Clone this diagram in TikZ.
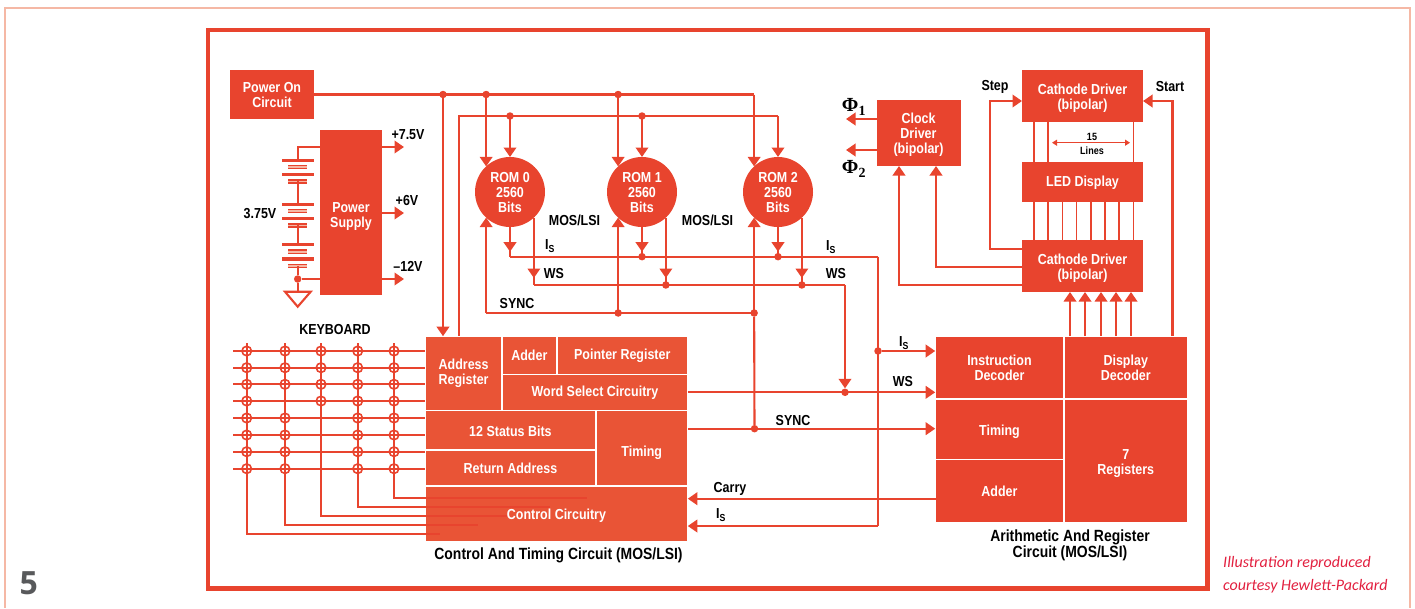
\documentclass[tikz,border=0pt]{standalone}
\usepackage{fontspec}
\setmainfont{Liberation Sans}[FakeStretch=0.86]
\newfontfamily\notefont{Carlito}
\newfontfamily\numfont{Open Sans}
\newfontfamily\phifont{Liberation Serif}
\usetikzlibrary{arrows.meta}
\definecolor{hpred}{HTML}{E8442E}
\definecolor{hplight}{HTML}{E95436}
\definecolor{hppale}{HTML}{F5B8A5}
\definecolor{hpink}{HTML}{E2203F}
\definecolor{hpgray}{HTML}{58595B}
\newcommand{\dn}[2]{\raisebox{-#1pt}[\height][\depth]{#2}}
\begin{document}
\begin{tikzpicture}[
        x=1pt, y=-1pt,
        block/.style={
            fill=hpred,
            text=white,
            font=\fontsize{14.5}{15}\selectfont\bfseries,
            align=center,
            inner sep=0pt,
            outer sep=0pt
        },
        cell/.style={
            block,
            draw=white,
            line width=1.6pt
        },
        rom/.style={
            block,
            circle,
            minimum size=70pt
        },
        wire/.style={
            draw=hpred,
            line width=2.1pt
        },
        fine/.style={
            draw=hpred,
            line width=1.7pt
        },
        sig/.style={
            wire,
            -{Triangle[length=9.5pt,width=12.5pt]}
        },
        dot/.style={
            circle,
            fill=hpred,
            minimum size=7.5pt,
            inner sep=0pt
        },
        keyhit/.style={
            circle,
            draw=hpred,
            line width=1.6pt,
            minimum size=9.5pt,
            inner sep=0pt
        },
        lbl/.style={
            font=\fontsize{14.5}{16}\selectfont\bfseries,
            align=center,
            inner sep=0pt,
            yshift=-1pt
        },
        caption/.style={
            lbl,
            font=\fontsize{16.2}{16}\selectfont\bfseries
        },
        philbl/.style={
            lbl,
            font=\fontsize{20}{20}\selectfont\phifont\bfseries
        },
        tinylbl/.style={
            lbl,
            font=\fontsize{10.5}{11}\selectfont\bfseries
        }
    ]

    \useasboundingbox (0,0) rectangle (1415,608);

    % ---------------------------------------------------------
    % One cell of a circuit block
    % Arguments:
    % #1 = node name
    % #2, #3 = left, top
    % #4, #5 = right, bottom
    % #6 = colour
    % #7 = text
    % ---------------------------------------------------------
    \newcommand{\drawCell}[7]{
        \node[cell, fill=#6, minimum width={(#4-#2)*1pt}, minimum height={(#5-#3)*1pt}]
            (#1) at ({(#2+#4)/2}, {(#3+#5)/2}) {#7};
    }

    % Frames
    \draw[hppale, line width=1.5pt] (5,608) -- (5,8) -- (1410,8) -- (1410,608);
    \draw[hpred, line width=4.4pt] (208,30) rectangle (1207.5,588.5);

    % ---------------------------------------------------------
    % Control and timing circuit
    % ---------------------------------------------------------
    \drawCell{addr}{425.2}{336.2}{502}{410.5}{hplight}{Address\\Register}
    \drawCell{cadd}{502}{336.2}{556.7}{374.5}{hplight}{Adder}
    \drawCell{ptr}{556.7}{336.2}{687.8}{374.5}{hplight}{Pointer Register}
    \drawCell{wsel}{502}{374.5}{687.8}{410.5}{hplight}{Word Select Circuitry}
    \drawCell{stat}{425.2}{410.5}{595.7}{450}{hplight}{\dn{1}{12 Status Bits}}
    \drawCell{ret}{425.2}{450}{595.7}{485.7}{hplight}{Return Address}
    \drawCell{ctim}{595.7}{410.5}{687.8}{485.7}{hplight}{\dn{5}{Timing}}
    \drawCell{ctl}{425.2}{485.7}{687.8}{541.3}{hplight}{\dn{2}{Control Circuitry}}
    \node[caption] (ctlcap) at (558.5,554) {Control And Timing Circuit (MOS/LSI)};

    % ---------------------------------------------------------
    % Arithmetic and register circuit
    % ---------------------------------------------------------
    \drawCell{inst}{935.2}{336.2}{1063.7}{399}{hpred}{Instruction\\Decoder}
    \drawCell{disp}{1063.7}{336.2}{1187.8}{399}{hpred}{Display\\Decoder}
    \drawCell{atim}{935.2}{399}{1063.7}{459.3}{hpred}{\dn{3}{Timing}}
    \drawCell{aadd}{935.2}{459.3}{1063.7}{522.8}{hpred}{Adder}
    \drawCell{regs}{1063.7}{399}{1187.8}{522.8}{hpred}{\dn{3}{7}\\\dn{3}{Registers}}
    \node[caption] (arcap) at (1070,544) {Arithmetic And Register\\Circuit (MOS/LSI)};

    % ---------------------------------------------------------
    % Power on, power supply and battery
    % ---------------------------------------------------------
    \node[block, minimum width=84pt, minimum height=49pt] (pwr) at (272,94.5) {\dn{1}{Power On}\\\dn{1}{Circuit}};
    \node[block, minimum width=62pt, minimum height=165pt] (psu) at (351,212.5) {\dn{4}{Power}\\\dn{4}{Supply}};

    \foreach \n/\y in {a/147,b/213,c/279} {
        \coordinate (out\n) at (404,\y);
        \draw[sig] (out\n -| psu.east) -- (out\n);
    }
    \node[lbl] (va) at (408,134) {+7.5V};
    \node[lbl] (vb) at (407,200) {+6V};
    \node[lbl] (vc) at (408,265) {--12V};
    \node[lbl] (vbat) at (260,213) {3.75V};

    \foreach \y in {160.3,174.7,204.3,218.7,244.7,259} {
        \draw[hpred, line width=3.2pt] (282,\y) -- (313.7,\y);
    }
    \foreach \y in {167,181.3,211,225.3,251.7,266} {
        \draw[hpred, line width=1.5pt, double=hppale, double distance=1.6pt] (288,\y) -- (307,\y);
    }
    \coordinate (psuin) at (320,147);
    \coordinate (battop) at (297.7,160.3);
    \node[dot] (batgnd) at (297.7,279) {};
    \coordinate (gnd) at (297.7,291.7);
    \draw[wire] (psuin) -| (battop);
    \draw[wire] (297.7,181.3) -- (297.7,204.3);
    \draw[wire] (297.7,225.3) -- (297.7,244.7);
    \draw[wire] (297.7,266) -- (batgnd) -- (gnd);
    \draw[wire] (batgnd) -- (batgnd -| psu.west);
    \draw[wire, line join=miter] (285,291.7) -- (310.7,291.7) -- (297.7,306.7) -- cycle;

    % ---------------------------------------------------------
    % ROMs with their buses
    % ---------------------------------------------------------
    \foreach \n/\x in {0/510,1/642,2/778} {
        \node[rom] (rom\n) at (\x,192) {\dn{1}{ROM \n}\\\dn{1}{2560}\\\dn{1}{Bits}};
        % points on the four rails
        \coordinate (pw\n) at (rom\n.133 |- pwr.east);
        \coordinate (rl\n) at (\x,116);
        \coordinate (is\n) at (\x,256.7);
        \coordinate (ws\n) at (rom\n.-47 |- 0,285);
        \coordinate (sy\n) at (rom\n.-133 |- 0,313);
    }
    \node[dot] (addrdot) at (443,94.5) {};
    \coordinate (rltop) at (459,116);
    \coordinate (isend) at (878,256.7);
    \coordinate (wsend) at (845,285);

    % rails
    \draw[wire] (pwr.east) -- (pw2);
    \draw[sig] (addrdot) -- (addrdot |- addr.north);
    \draw[wire] (addr.north -| rltop) -- (rltop) -- (rl2);
    \draw[wire] (is0) -- (isend);
    \draw[wire] (ws0) -- (wsend);
    \draw[wire] (sy0) -- (sy2);

    % ROM inputs and outputs
    \foreach \n in {0,1,2} {
        \draw[sig] (pw\n) -- (rom\n.133);
        \draw[sig] (rl\n) -- (rom\n.north);
        \draw[sig] (sy\n) -- (rom\n.-133);
        \draw[wire] (rom\n.south) -- (is\n);
        \draw[wire] (rom\n.-47) -- (ws\n);
        \draw[sig, shorten >=5pt] (rom\n.south) -- (is\n);
        \draw[sig, shorten >=7pt] (rom\n.-47) -- (ws\n);
    }
    \foreach \n in {0,1} {
        \node[dot] (pwd\n) at (pw\n) {};
        \node[dot] (rld\n) at (rl\n) {};
    }
    \foreach \n in {1,2} {
        \node[dot] (isd\n) at (is\n) {};
        \node[dot] (wsd\n) at (ws\n) {};
        \node[dot] (syd\n) at (sy\n) {};
    }

    \node[lbl] (mos0) at (574.5,219) {MOS/LSI};
    \node[lbl] (mos1) at (707.5,219) {MOS/LSI};
    \node[lbl] (isa) at (550,245) {I\textsubscript{S}};
    \node[lbl] (isb) at (831,246) {I\textsubscript{S}};
    \node[lbl] (wsa) at (554,273) {WS};
    \node[lbl] (wsb) at (836,273) {WS};
    \node[lbl] (syncr) at (517,303) {SYNC};

    % ---------------------------------------------------------
    % Signals between the two circuits
    % ---------------------------------------------------------
    \node[dot] (isdot) at (878,351) {};
    \coordinate (isleft) at (878,526);
    \node[dot] (wsdot) at (845,392.3) {};
    \node[dot] (sydot) at (754.5,428.7) {};

    \draw[wire] (isend) -- (isleft);
    \draw[sig] (isleft) -- (isleft -| ctl.east);
    \draw[sig] (isdot) -- (isdot -| inst.west);
    \draw[sig] (wsend) -- (wsdot);
    \draw[sig] (wsdot -| wsel.east) -- (wsdot -| inst.west);
    \draw[sig] (sydot -| ctim.east) -- (sydot -| atim.west);
    \draw[wire] (sydot) -- (syd2);
    \coordinate (carry) at (936,498.7);
    \draw[sig] (carry) -- (carry -| ctl.east);

    \node[lbl] (isc) at (904,342) {I\textsubscript{S}};
    \node[lbl] (wsc) at (903,381) {WS};
    \node[lbl] (syncb) at (793,420) {SYNC};
    \node[lbl] (carrylbl) at (730,488) {Carry};
    \node[lbl] (isd) at (721,514) {I\textsubscript{S}};

    % ---------------------------------------------------------
    % Clock driver and display
    % ---------------------------------------------------------
    \node[block, minimum width=84pt, minimum height=66pt] (clk) at (918.5,133) {\dn{2}{Clock}\\\dn{2}{Driver}\\\dn{2}{(bipolar)}};
    \node[block, minimum width=121pt, minimum height=52pt] (ucath) at (1082.5,96) {\dn{2}{Cathode Driver}\\\dn{2}{(bipolar)}};
    \node[block, minimum width=121pt, minimum height=40pt] (led) at (1082.5,182) {\dn{1}{LED Display}};
    \node[block, minimum width=121pt, minimum height=52pt] (lcath) at (1082.5,266) {\dn{2}{Cathode Driver}\\\dn{2}{(bipolar)}};

    \coordinate (ph1) at (846,119);
    \coordinate (ph2) at (846,150);
    \draw[sig] (ph1 -| clk.west) -- (ph1);
    \draw[sig] (ph2 -| clk.west) -- (ph2);
    \node[philbl] (ph1lbl) at (854,106) {Φ\textsubscript{1}};
    \node[philbl] (ph2lbl) at (854,168) {Φ\textsubscript{2}};

    \coordinate (clkb) at (936,267);
    \coordinate (clka) at (899,285);
    \draw[sig] (clkb -| lcath.west) -- (clkb) -- (clkb |- clk.south);
    \draw[sig] (clka -| lcath.west) -- (clka) -- (clka |- clk.south);

    \coordinate (stepl) at (990,249);
    \coordinate (stepu) at (990,101);
    \draw[sig] (stepl -| lcath.west) -- (stepl) -- (stepu) -- (stepu -| ucath.west);
    \coordinate (startu) at (1172.5,101);
    \draw[sig] (startu |- disp.north) -- (startu) -- (startu -| ucath.east);
    \node[lbl] (steplbl) at (995,86) {Step};
    \node[lbl] (startlbl) at (1170,86) {Start};

    \foreach \x in {1034,1048,1133.5} {
        \draw[fine] (\x,0 |- ucath.south) -- (\x,0 |- led.north);
    }
    \foreach \x in {1034,1048,1062.5,1076.5,1091,1105,1119,1133.5} {
        \draw[fine] (\x,0 |- led.south) -- (\x,0 |- lcath.north);
    }
    \foreach \x in {1070,1085,1101,1116,1131} {
        \draw[sig, line width=1.9pt] (\x,0 |- disp.north) -- (\x,0 |- lcath.south);
    }

    \coordinate (linesl) at (1052,142.7);
    \coordinate (linesr) at (1130,142.7);
    \draw[hpred, line width=1.2pt, {Triangle[length=5pt,width=6pt]}-{Triangle[length=5pt,width=6pt]}] (linesl) -- (linesr);
    \node[tinylbl] (fifteen) at (1092,136) {15};
    \node[tinylbl] (lineslbl) at (1092,150) {Lines};

    % ---------------------------------------------------------
    % Keyboard matrix
    % ---------------------------------------------------------
    \node[lbl] (kbd) at (335,329) {KEYBOARD};

    \foreach \r/\y in {1/351,2/367.7,3/384.3,4/401,5/418,6/435,7/451.7,8/468.7} {
        \coordinate (row\r) at (233,\y);
        \draw[wire] (row\r) -- (row\r -| addr.west);
    }
    \foreach \c/\x/\yb/\xe in {1/246.7/534/440,2/285/525/478,3/321/516/507,4/357.7/507/550,5/394/498/587} {
        \coordinate (col\c) at (\x,343);
        \coordinate (end\c) at (\xe,\yb);
        \draw[wire] (col\c) |- (end\c);
    }
    \foreach \c/\rows in {1/{1,2,3,4,5,6,7,8},2/{1,2,3,5,6,7,8},3/{1,2,3,4},4/{1,2,3,4,5,6,7,8},5/{1,2,3,4,5,6,7,8}} {
        \foreach \r in \rows {
            \node[keyhit] (k\c\r) at (col\c |- row\r) {};
        }
    }

    % Page notes
    \node[anchor=west, inner sep=0pt, text=hpgray, font=\fontsize{32}{32}\selectfont\numfont\bfseries] (fignum) at (19.5,583) {5};
    \node[anchor=west, inner sep=0pt, text=hpink, font=\fontsize{16}{23}\selectfont\notefont\itshape, align=left] (credit) at (1223,574.5) {Illustration reproduced\\courtesy Hewlett-Packard};

\end{tikzpicture}
\end{document}
